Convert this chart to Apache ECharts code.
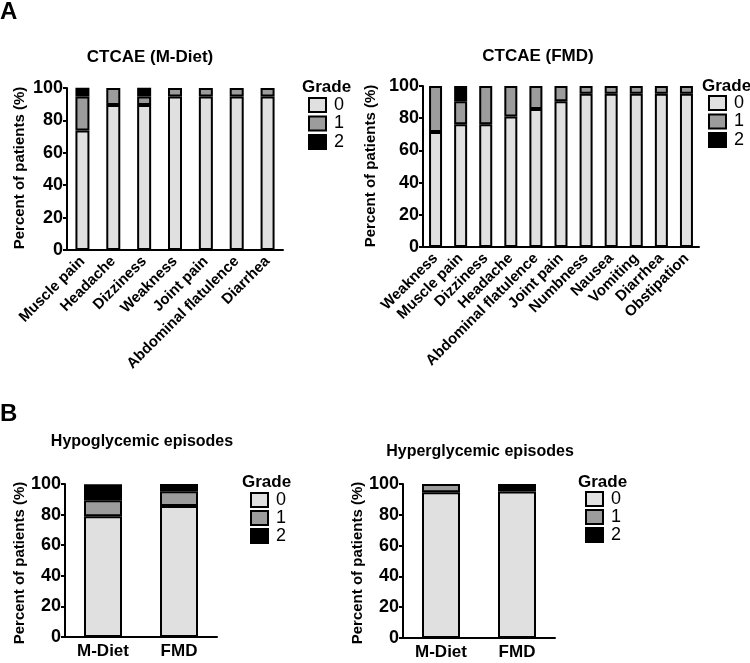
<!DOCTYPE html>
<html><head><meta charset="utf-8">
<script src="https://cdn.jsdelivr.net/npm/echarts@6/dist/echarts.min.js"></script>
<style>html,body{margin:0;padding:0;background:#fff}#c{width:750px;height:663px}</style>
</head><body><div id="c"></div>
<script>
// ---- data ----
const mdietCats = ['Muscle pain','Headache','Dizziness','Weakness','Joint pain','Abdominal flatulence','Diarrhea'];
const mdietG0 = [73.7, 89.5, 89.5, 94.7, 94.7, 94.7, 94.7];
const mdietG1 = [21.1, 10.5, 5.3, 5.3, 5.3, 5.3, 5.3];
const mdietG2 = [5.3, 0, 5.3, 0, 0, 0, 0];

const fmdCats = ['Weakness','Muscle pain','Dizziness','Headache','Abdominal flatulence','Joint pain','Numbness','Nausea','Vomiting','Diarrhea','Obstipation'];
const fmdG0 = [71.4, 76.2, 76.2, 81.0, 85.7, 90.5, 95.2, 95.2, 95.2, 95.2, 95.2];
const fmdG1 = [28.6, 14.3, 23.8, 19.0, 14.3, 9.5, 4.8, 4.8, 4.8, 4.8, 4.8];
const fmdG2 = [0, 9.5, 0, 0, 0, 0, 0, 0, 0, 0, 0];

const groupCats = ['M-Diet','FMD'];
const hypoG0 = [78.9, 85.7];
const hypoG1 = [10.5, 9.5];
const hypoG2 = [10.5, 4.8];
const hyperG0 = [94.7, 95.2];
const hyperG1 = [5.3, 0];
const hyperG2 = [0, 4.8];

const gradeNames = ['0','1','2'];
const yTicks = [0, 20, 40, 60, 80, 100];

// ---- styles ----
const FONT = '"Liberation Sans", Arial, sans-serif';
const colors = ['#e0e0e0', '#9c9c9c', '#000000'];

const panels = [
  {cats: mdietCats, g: [mdietG0, mdietG1, mdietG2], grid: {left: 67, top: 88, width: 216, height: 162}, barWidth: 14, rotate: 45, xfs: 15, title: 'CTCAE (M-Diet)', tfs: 17, tx: 150, ty: 57, yn: [20, 168], leg: {x: 308, y: 96}, gx: 302, gy: 87, rowGap: 0.5},
  {cats: fmdCats, g: [fmdG0, fmdG1, fmdG2], grid: {left: 423, top: 86, width: 276, height: 161}, barWidth: 13, rotate: 45, xfs: 15, title: 'CTCAE (FMD)', tfs: 17, tx: 538, ty: 56, yn: [371, 166], leg: {x: 708, y: 94}, gx: 702, gy: 86, rowGap: 0.5},
  {cats: groupCats, g: [hypoG0, hypoG1, hypoG2], grid: {left: 65, top: 484, width: 152, height: 153}, barWidth: 38, rotate: 0, xfs: 17, title: 'Hypoglycemic episodes', tfs: 16, tx: 142, ty: 442, yn: [20, 563], leg: {x: 250, y: 491}, gx: 242, gy: 482, rowGap: 0},
  {cats: groupCats, g: [hyperG0, hyperG1, hyperG2], grid: {left: 403, top: 484, width: 152, height: 154}, barWidth: 38, rotate: 0, xfs: 17, title: 'Hyperglycemic episodes', tfs: 16, tx: 480, ty: 452, yn: [358, 563], leg: {x: 585, y: 490}, gx: 578, gy: 482, rowGap: 0}
];

const option = {
  animation: false,
  backgroundColor: '#fff',
  textStyle: {fontFamily: FONT, color: '#000'},
  grid: [], xAxis: [], yAxis: [], series: [], legend: [], graphic: []
};

panels.forEach((p, i) => {
  option.grid.push(Object.assign({containLabel: false}, p.grid));
  option.xAxis.push({
    type: 'category', gridIndex: i, data: p.cats,
    axisLine: {lineStyle: {color: '#000', width: 2}},
    axisTick: {alignWithLabel: true, length: 5, lineStyle: {color: '#000', width: 2}},
    axisLabel: {rotate: p.rotate, interval: 0, color: '#000', fontWeight: 'bold', fontSize: p.xfs, fontFamily: FONT, margin: p.rotate ? 9 : 6}
  });
  option.yAxis.push({
    type: 'value', gridIndex: i, min: yTicks[0], max: yTicks[yTicks.length - 1], interval: yTicks[1] - yTicks[0],
    axisLine: {show: true, lineStyle: {color: '#000', width: 2}},
    axisTick: {show: true, length: 4, lineStyle: {color: '#000', width: 2}},
    splitLine: {show: false},
    axisLabel: {color: '#000', fontWeight: 'bold', fontSize: 18, fontFamily: FONT, margin: 4}
  });
  p.g.forEach((vals, k) => {
    option.series.push({
      type: 'bar', name: gradeNames[k], xAxisIndex: i, yAxisIndex: i, stack: 's' + i,
      barWidth: p.barWidth,
      data: vals.map(v => v === 0 ? '-' : v),
      itemStyle: {color: colors[k], borderColor: '#000', borderWidth: 2}
    });
  });
  option.legend.push({
    orient: 'vertical', left: p.leg.x, top: p.leg.y, padding: 0,
    icon: 'rect',
    itemWidth: 17, itemHeight: 14, itemGap: p.rowGap, selectedMode: false,
    data: gradeNames,
    textStyle: {fontSize: 18, lineHeight: 15, color: '#000', fontFamily: FONT, padding: [0, 0, 0, 3]}
  });
  option.graphic.push({type: 'text', x: p.gx, y: p.gy, style: {text: 'Grade', font: 'bold 17px ' + FONT, fill: '#000', textAlign: 'left', textVerticalAlign: 'middle'}});
  option.graphic.push({type: 'text', x: p.tx, y: p.ty, style: {text: p.title, font: 'bold ' + p.tfs + 'px ' + FONT, fill: '#000', textAlign: 'center', textVerticalAlign: 'middle'}});
  option.graphic.push({type: 'text', x: p.yn[0], y: p.yn[1], rotation: Math.PI / 2, style: {text: 'Percent of patients (%)', font: 'bold 15px ' + FONT, fill: '#000', textAlign: 'center', textVerticalAlign: 'middle'}});
});

option.graphic.push({type: 'text', x: 0, y: 12, style: {text: 'A', font: 'bold 24px ' + FONT, fill: '#000', textAlign: 'left', textVerticalAlign: 'middle'}});
option.graphic.push({type: 'text', x: 0, y: 414, style: {text: 'B', font: 'bold 24px ' + FONT, fill: '#000', textAlign: 'left', textVerticalAlign: 'middle'}});

const chart = echarts.init(document.getElementById('c'), null, {renderer: 'canvas'});
chart.setOption(option);
</script>
</body></html>
